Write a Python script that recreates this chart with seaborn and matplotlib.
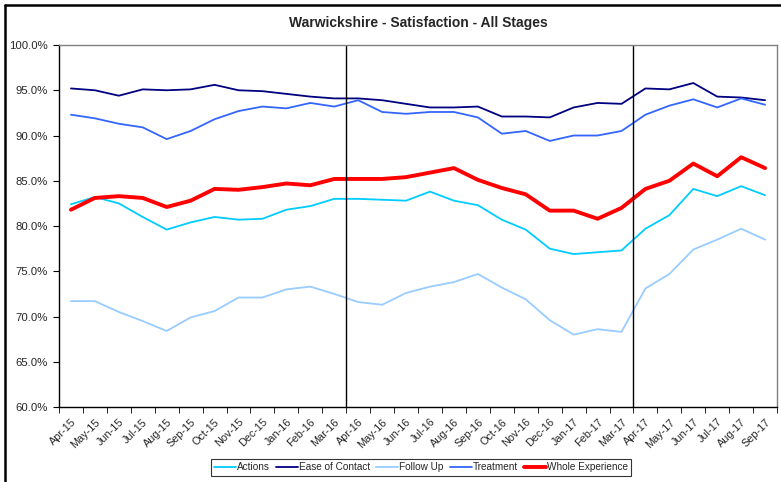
import pandas as pd
import numpy as np
import matplotlib
matplotlib.use('Agg')
import matplotlib.pyplot as plt
from matplotlib.ticker import PercentFormatter, FixedLocator
from matplotlib.lines import Line2D
import seaborn as sns

months = ['Apr-15', 'May-15', 'Jun-15', 'Jul-15', 'Aug-15', 'Sep-15', 'Oct-15', 'Nov-15',
          'Dec-15', 'Jan-16', 'Feb-16', 'Mar-16', 'Apr-16', 'May-16', 'Jun-16', 'Jul-16',
          'Aug-16', 'Sep-16', 'Oct-16', 'Nov-16', 'Dec-16', 'Jan-17', 'Feb-17', 'Mar-17',
          'Apr-17', 'May-17', 'Jun-17', 'Jul-17', 'Aug-17', 'Sep-17']

actions = [82.4, 83.2, 82.5, 81.0, 79.6, 80.4, 81.0, 80.7, 80.8, 81.8, 82.2, 83.0,
           83.0, 82.9, 82.8, 83.8, 82.8, 82.3, 80.7, 79.6, 77.5, 76.9, 77.1, 77.3,
           79.7, 81.2, 84.1, 83.3, 84.4, 83.4]
ease_of_contact = [95.2, 95.0, 94.4, 95.1, 95.0, 95.1, 95.6, 95.0, 94.9, 94.6, 94.3, 94.1,
                   94.1, 93.9, 93.5, 93.1, 93.1, 93.2, 92.1, 92.1, 92.0, 93.1, 93.6, 93.5,
                   95.2, 95.1, 95.8, 94.3, 94.2, 93.9]
follow_up = [71.7, 71.7, 70.5, 69.5, 68.4, 69.9, 70.6, 72.1, 72.1, 73.0, 73.3, 72.5,
             71.6, 71.3, 72.6, 73.3, 73.8, 74.7, 73.2, 71.9, 69.6, 68.0, 68.6, 68.3,
             73.1, 74.7, 77.4, 78.5, 79.7, 78.5]
treatment = [92.3, 91.9, 91.3, 90.9, 89.6, 90.5, 91.8, 92.7, 93.2, 93.0, 93.6, 93.2,
             93.9, 92.6, 92.4, 92.6, 92.6, 92.0, 90.2, 90.5, 89.4, 90.0, 90.0, 90.5,
             92.3, 93.3, 94.0, 93.1, 94.1, 93.4]
whole_experience = [81.8, 83.1, 83.3, 83.1, 82.1, 82.8, 84.1, 84.0, 84.3, 84.7, 84.5, 85.2,
                    85.2, 85.2, 85.4, 85.9, 86.4, 85.1, 84.2, 83.5, 81.7, 81.7, 80.8, 82.0,
                    84.1, 85.0, 86.9, 85.5, 87.6, 86.4]

series = {
    'Actions': actions,
    'Ease of Contact': ease_of_contact,
    'Follow Up': follow_up,
    'Treatment': treatment,
    'Whole Experience': whole_experience,
}
colors = {
    'Actions': '#00CCFF',
    'Ease of Contact': '#000080',
    'Follow Up': '#99CCFF',
    'Treatment': '#3366FF',
    'Whole Experience': '#FF0000',
}
widths = {'Actions': 1.3, 'Ease of Contact': 1.3, 'Follow Up': 1.3,
          'Treatment': 1.3, 'Whole Experience': 2.8}

rows = []
for name, vals in series.items():
    for i, v in enumerate(vals):
        rows.append({'idx': i, 'month': months[i], 'series': name, 'value': v})
df = pd.DataFrame(rows)

sns.set_style('white')
plt.rcParams['font.family'] = ['Liberation Sans', 'DejaVu Sans']

fig = plt.figure(figsize=(7.81, 4.82), dpi=100)
ax = fig.add_axes([0.0755, 0.1556, 0.9195, 0.751])

for name in series:
    sub = df[df['series'] == name]
    sns.lineplot(data=sub, x='idx', y='value', color=colors[name], lw=widths[name],
                 label=name, ax=ax)

# period separators
ax.axvline(11.5, color='black', lw=1)
ax.axvline(23.5, color='black', lw=1)

ax.set_xlim(-0.5, len(months) - 0.5)
ax.set_ylim(60, 100)
ax.yaxis.set_major_locator(FixedLocator(np.arange(60, 100.1, 5)))
ax.yaxis.set_major_formatter(PercentFormatter(decimals=1))
ax.set_xticks(range(len(months)))
ax.set_xticklabels(months, rotation=45, ha='right', rotation_mode='anchor', fontsize=7.8)
ax.set_xticks(np.arange(-0.5, len(months), 1), minor=True)
ax.tick_params(axis='x', which='major', length=0, pad=7)
ax.tick_params(axis='x', which='minor', length=4, color='black', direction='out', bottom=True)
ax.tick_params(axis='y', length=4, color='black', direction='out', left=True,
               labelsize=8.2, pad=4)
ax.set_xlabel('')
ax.set_ylabel('')
for s in ax.spines.values():
    s.set_color('#808080')
    s.set_linewidth(1)
ax.spines['left'].set_color('black')
ax.spines['bottom'].set_color('black')

ax.set_title('Warwickshire - Satisfaction - All Stages', fontsize=10, fontweight='bold', pad=13)

leg = ax.legend(loc='center', bbox_to_anchor=(421 / 781, 1 - 467 / 482),
                bbox_transform=fig.transFigure, ncol=5, fontsize=7.2, frameon=True,
                fancybox=False, edgecolor='black', handlelength=2.2, handletextpad=0.1,
                columnspacing=0.6, borderpad=0.35)
leg.get_frame().set_linewidth(0.8)

# outer chart border (top and left visible)
fig.add_artist(Line2D([5 / 781, 1], [1 - 5 / 482, 1 - 5 / 482], transform=fig.transFigure,
                      color='black', lw=1.8))
fig.add_artist(Line2D([5 / 781, 5 / 781], [0, 1 - 5 / 482], transform=fig.transFigure,
                      color='black', lw=1.8))

fig.savefig('out.png', dpi=100)
